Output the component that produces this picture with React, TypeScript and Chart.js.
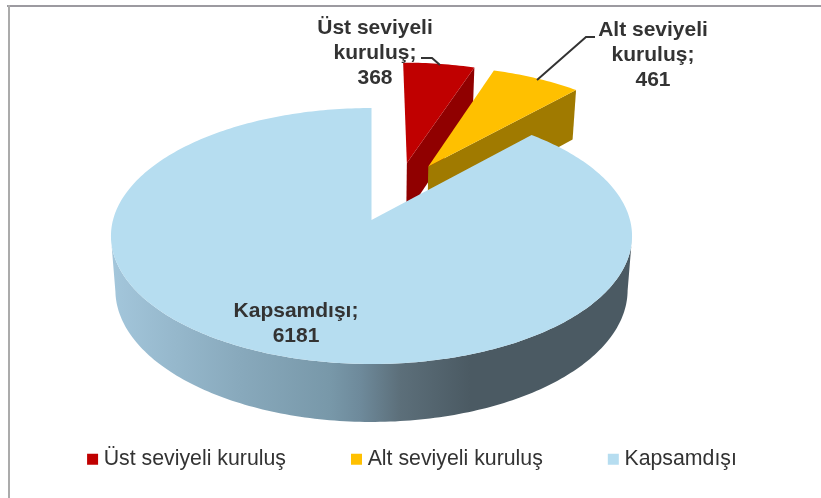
import React, { useEffect, useRef } from "react";
import { Chart, registerables } from "chart.js";

Chart.register(...registerables);

const categories = ["Üst seviyeli kuruluş", "Alt seviyeli kuruluş", "Kapsamdışı"];
const values = [368, 461, 6181];
const faceColors = ["#C00000", "#FFC000", "#B6DDF0"];
const sideColors = ["#900000", "#A07A00", "#7898A9"];
const explodeU = [0.145, 0.232, 0];
const explodeV = [0.48, 0.448, 0];
const labelLines = [["Üst seviyeli", "kuruluş;"], ["Alt seviyeli", "kuruluş;"], ["Kapsamdışı;"]];
const labelX = [375, 653, 296];
const labelY = [28, 30, 311];
const FONT = "'Liberation Sans', Arial, sans-serif";

// Perspective projection of the pie's unit disc on to the page.
const CX = 371.5, CY = 220, A = 126, B = 258.5, P = 0.125;
const top = (u: number, v: number) => {
  const w = 1 + P * v;
  return [CX + (B * u) / w, CY - (A * v) / w];
};
const bottom = (u: number, v: number) => {
  const w = 1 + P * v;
  return [CX + (B * 0.983 * u) / w, CY + (53.5 - 123.2 * v) / w];
};

const pie3d = {
  id: "pie3d",
  beforeDatasetsDraw(chart: any) {
    const ctx = chart.ctx;
    const arcs = chart.getDatasetMeta(0).data;
    ctx.save();
    arcs.forEach((arc: any, i: number) => {
      const t0 = arc.startAngle + Math.PI / 2;
      const t1 = arc.endAngle + Math.PI / 2;
      const du = explodeU[i], dv = explodeV[i];
      const pt = (fn: any, t: number, r = 1) => fn(r * Math.sin(t) + du, r * Math.cos(t) + dv);
      const n = Math.max(8, Math.ceil(((t1 - t0) * 180) / Math.PI));
      const trace = (pts: number[][]) => {
        ctx.beginPath();
        pts.forEach((p, k) => (k ? ctx.lineTo(p[0], p[1]) : ctx.moveTo(p[0], p[1])));
        ctx.closePath();
      };
      const ts: number[] = [];
      for (let k = 0; k <= n; k++) ts.push(t0 + ((t1 - t0) * k) / n);

      if (i === arcs.length - 1) {
        const g = ctx.createLinearGradient(112, 0, 632, 0);
        const stops: [number, string][] = [
          [112, "#A3C6DB"], [240, "#88A9BC"], [330, "#7898A9"], [360, "#6E8A9B"], [400, "#5C6F7A"], [470, "#4B5A63"], [632, "#4B5A63"],
        ];
        stops.forEach(([x, c]) => g.addColorStop((x - 112) / 520, c));
        ctx.fillStyle = g;
        // Only the part of the wall that faces the viewer: between the rim's far right and far left.
        const front = ts.filter((t) => Math.cos(t) < -P);
        trace([...front.map((t) => pt(top, t)), ...front.slice().reverse().map((t) => pt(bottom, t))]);
        ctx.fill();
      } else {
        ctx.fillStyle = sideColors[i];
        trace([pt(top, t1, 0), pt(top, t1), pt(bottom, t1), pt(bottom, t1, 0)]);
        ctx.fill();
      }
      ctx.fillStyle = arc.options.backgroundColor;
      trace([pt(top, t0, 0), ...ts.map((t) => pt(top, t))]);
      ctx.fill();
    });
    ctx.restore();
    return false;
  },
  afterDraw(chart: any) {
    const ctx = chart.ctx;
    ctx.save();
    ctx.fillStyle = "#9C9AA0";
    ctx.fillRect(7, 5, 814, 2);
    ctx.fillStyle = "#ABABAB";
    ctx.fillRect(8, 5, 2, 493);

    ctx.strokeStyle = "#333333";
    ctx.lineWidth = 2;
    ctx.beginPath();
    ctx.moveTo(421, 58); ctx.lineTo(432, 58); ctx.lineTo(440, 65);
    ctx.moveTo(595, 37); ctx.lineTo(586, 37); ctx.lineTo(537, 80);
    ctx.stroke();

    ctx.fillStyle = "#333333";
    ctx.font = `bold 21px ${FONT}`;
    ctx.textAlign = "center";
    ctx.textBaseline = "middle";
    labelLines.forEach((lines, i) => {
      [...lines, String(values[i])].forEach((s, k) => ctx.fillText(s, labelX[i], labelY[i] + k * 25));
    });
    ctx.restore();
  },
};

export default function App() {
  const ref = useRef<HTMLCanvasElement>(null);
  useEffect(() => {
    const chart = new Chart(ref.current as HTMLCanvasElement, {
      type: "pie",
      data: {
        labels: categories,
        datasets: [{ data: values, backgroundColor: faceColors, borderWidth: 0 }],
      },
      options: {
        animation: false,
        responsive: false,
        devicePixelRatio: 1,
        layout: { padding: { left: 8, bottom: 18 } },
        plugins: {
          tooltip: { enabled: false },
          legend: {
            position: "bottom",
            labels: {
              color: "#333333",
              font: { family: FONT, size: 21.3 },
              boxWidth: 1,
              boxHeight: 1,
              padding: 70,
              generateLabels: (c: any) =>
                c.data.labels.map((text: string, i: number) => ({
                  text,
                  fillStyle: faceColors[i],
                  strokeStyle: faceColors[i],
                  lineWidth: 10,
                  fontColor: "#333333",
                  index: i,
                })),
            },
          },
        },
      } as any,
      plugins: [pie3d as any],
    });
    return () => chart.destroy();
  }, []);
  return (
    <div style={{ position: "fixed", left: 0, top: 0, width: 821, height: 498, background: "#fff" }}>
      <canvas ref={ref} width={821} height={498} style={{ display: "block" }} />
    </div>
  );
}
